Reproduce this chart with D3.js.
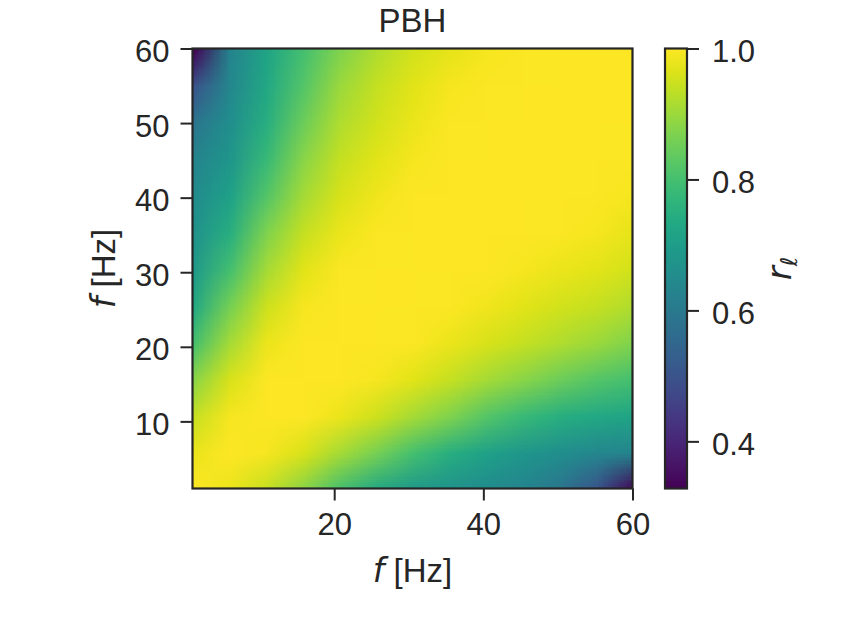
<!DOCTYPE html>
<html>
<head>
<meta charset="utf-8">
<script src="https://cdn.jsdelivr.net/npm/d3@7"></script>
<style>
  body { margin: 0; background: #fff; }
  svg text { font-family: "Liberation Sans", Arial, sans-serif; fill: #262626; }
</style>
</head>
<body>
<div id="chart"></div>
<script>
// grid nodes (Hz), same on both axes
const freqHz = [1, 5.92, 10.83, 15.75, 20.67, 25.58, 30.5, 35.42, 40.33, 45.25, 50.17, 55.08, 60];

// r_l, upper triangle: for x node i, values at y nodes i+1..12
const rl0 = [0.98, 0.94, 0.88, 0.80, 0.73, 0.69, 0.67, 0.65, 0.63, 0.59, 0.50, 0.33];
const rl1 = [0.99, 0.96, 0.91, 0.86, 0.80, 0.75, 0.71, 0.68, 0.66, 0.64, 0.63];
const rl2 = [1.0, 0.98, 0.95, 0.91, 0.87, 0.82, 0.78, 0.75, 0.73, 0.72];
const rl3 = [1.0, 0.99, 0.97, 0.94, 0.91, 0.88, 0.85, 0.82, 0.80];
const rl4 = [1.0, 0.995, 0.98, 0.96, 0.94, 0.92, 0.90, 0.87];
const rl5 = [1.0, 0.995, 0.985, 0.97, 0.955, 0.94, 0.92];
const rl6 = [1.0, 0.998, 0.99, 0.98, 0.97, 0.955];
const rl7 = [1.0, 0.998, 0.995, 0.99, 0.975];
const rl8 = [1.0, 1.0, 0.997, 0.99];
const rl9 = [1.0, 1.0, 0.997];
const rl10 = [1.0, 1.0];
const rl11 = [1.0];
const upper = [rl0, rl1, rl2, rl3, rl4, rl5, rl6, rl7, rl8, rl9, rl10, rl11, []];

const xTicks = [20, 40, 60];
const yTicks = [10, 20, 30, 40, 50, 60];
const cbarTicks = [0.4, 0.6, 0.8, 1.0];
const rMin = 0.328, rMax = 1.0;

const W = 843, H = 632;
const plot = { left: 192.5, top: 48.5, size: 440 };
const cbar = { left: 665, width: 22 };
const ink = "#262626";

const svg = d3.select("#chart").append("svg")
  .attr("width", W).attr("height", H);

const x = d3.scaleLinear().domain([1, 60]).range([plot.left, plot.left + plot.size]);
const y = d3.scaleLinear().domain([1, 60]).range([plot.top + plot.size, plot.top]);
const color = d3.scaleSequential(d3.interpolateViridis).domain([rMin, rMax]);

// symmetric matrix
const n = freqHz.length;
const value = (i, j) => i === j ? 1 : (i < j ? upper[i][j - i - 1] : upper[j][i - j - 1]);

// paint grid into a tiny canvas, row 0 = highest frequency
const cv = document.createElement("canvas");
cv.width = n; cv.height = n;
const ctx = cv.getContext("2d");
const img = ctx.createImageData(n, n);
for (let r = 0; r < n; r++) {
  for (let c = 0; c < n; c++) {
    const col = d3.rgb(color(value(c, n - 1 - r)));
    const k = (r * n + c) * 4;
    img.data[k] = col.r; img.data[k + 1] = col.g; img.data[k + 2] = col.b; img.data[k + 3] = 255;
  }
}
ctx.putImageData(img, 0, 0);

const step = x(freqHz[1]) - x(freqHz[0]);
svg.append("clipPath").attr("id", "plotclip")
  .append("rect")
  .attr("x", plot.left).attr("y", plot.top)
  .attr("width", plot.size).attr("height", plot.size);

svg.append("image")
  .attr("clip-path", "url(#plotclip)")
  .attr("href", cv.toDataURL())
  .attr("preserveAspectRatio", "none")
  .attr("x", x(freqHz[0]) - step / 2)
  .attr("y", y(freqHz[n - 1]) - step / 2)
  .attr("width", step * n)
  .attr("height", step * n);

// axes
const xAxis = svg.append("g")
  .attr("transform", `translate(0,${plot.top + plot.size})`)
  .call(d3.axisBottom(x).tickValues(xTicks).tickSize(12).tickPadding(12).tickFormat(d3.format("d")));
const yAxis = svg.append("g")
  .attr("transform", `translate(${plot.left},0)`)
  .call(d3.axisLeft(y).tickValues(yTicks).tickSize(12).tickPadding(11).tickFormat(d3.format("d")));

[xAxis, yAxis].forEach(g => {
  g.select(".domain").remove();
  g.selectAll(".tick line").attr("stroke", ink).attr("stroke-width", 2);
  g.selectAll(".tick text").attr("font-size", 31).attr("fill", ink)
    .style("font-family", '"Liberation Sans", Arial, sans-serif');
});
yAxis.selectAll(".tick text").attr("dy", "0.42em");

svg.append("rect")
  .attr("x", plot.left).attr("y", plot.top)
  .attr("width", plot.size).attr("height", plot.size)
  .attr("fill", "none").attr("stroke", ink).attr("stroke-width", 2.2);

// title
svg.append("text")
  .attr("x", plot.left + plot.size / 2).attr("y", 32)
  .attr("text-anchor", "middle").attr("font-size", 33)
  .text("PBH");

// axis labels
const xl = svg.append("text")
  .attr("x", plot.left + plot.size / 2).attr("y", 582)
  .attr("text-anchor", "middle").attr("font-size", 33);
xl.append("tspan").style("font-family", '"DejaVu Sans"').attr("font-style", "italic").text("f");
xl.append("tspan").text(" [Hz]");

const yl = svg.append("text")
  .attr("transform", `translate(115,${plot.top + plot.size / 2}) rotate(-90)`)
  .attr("text-anchor", "middle").attr("font-size", 33);
yl.append("tspan").style("font-family", '"DejaVu Sans"').attr("font-style", "italic").text("f");
yl.append("tspan").text(" [Hz]");

// colorbar
const cy = d3.scaleLinear().domain([rMin, rMax]).range([plot.top + plot.size, plot.top]);
const grad = svg.append("defs").append("linearGradient")
  .attr("id", "cbgrad").attr("x1", 0).attr("y1", 1).attr("x2", 0).attr("y2", 0);
d3.range(0, 1.0001, 0.05).forEach(t => {
  grad.append("stop").attr("offset", t).attr("stop-color", d3.interpolateViridis(t));
});
svg.append("rect")
  .attr("x", cbar.left).attr("y", plot.top)
  .attr("width", cbar.width).attr("height", plot.size)
  .attr("fill", "url(#cbgrad)");

const cAxis = svg.append("g")
  .attr("transform", `translate(${cbar.left + cbar.width},0)`)
  .call(d3.axisRight(cy).tickValues(cbarTicks).tickSize(12).tickPadding(13).tickFormat(d3.format(".1f")));
cAxis.select(".domain").remove();
cAxis.selectAll(".tick line").attr("stroke", ink).attr("stroke-width", 2);
cAxis.selectAll(".tick text").attr("font-size", 31).attr("fill", ink).attr("dy", "0.42em")
  .style("font-family", '"Liberation Sans", Arial, sans-serif');

svg.append("rect")
  .attr("x", cbar.left).attr("y", plot.top)
  .attr("width", cbar.width).attr("height", plot.size)
  .attr("fill", "none").attr("stroke", ink).attr("stroke-width", 2.2);

const cl = svg.append("text")
  .attr("transform", `translate(791,${plot.top + plot.size / 2}) rotate(-90)`)
  .attr("text-anchor", "middle").attr("font-size", 34)
  .style("font-family", '"DejaVu Sans"');
cl.append("tspan").attr("font-style", "italic").text("r");
cl.append("tspan").attr("font-style", "italic").attr("font-size", 23).attr("dy", 6).text("ℓ");
</script>
</body>
</html>
